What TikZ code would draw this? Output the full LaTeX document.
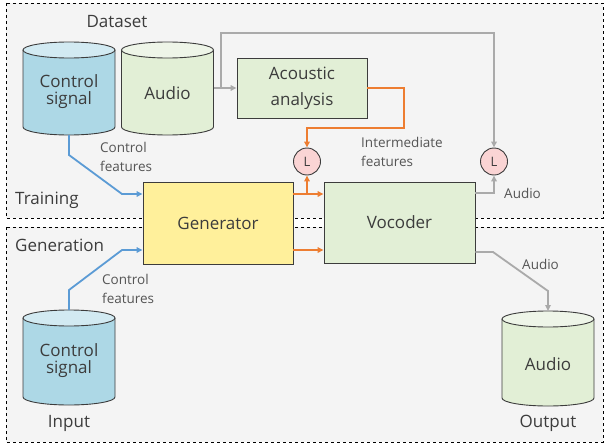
\documentclass[tikz,border=0pt]{standalone}
\usepackage{fontspec}
\setmainfont{Open Sans}
\usetikzlibrary{arrows.meta}
\definecolor{bgray}{RGB}{244,244,244}
\definecolor{txt}{RGB}{60,60,60}
\definecolor{txtl}{RGB}{85,85,85}
\definecolor{edge}{RGB}{60,60,60}
\definecolor{cblue}{RGB}{173,216,230}
\definecolor{cbluetop}{RGB}{210,234,242}
\definecolor{cgreen}{RGB}{226,239,214}
\definecolor{cgreentop}{RGB}{238,245,232}
\definecolor{cyellow}{RGB}{255,240,155}
\definecolor{cpink}{RGB}{250,212,212}
\definecolor{lorange}{RGB}{237,125,49}
\definecolor{lblue}{RGB}{91,155,213}
\definecolor{lgray}{RGB}{170,170,170}
\newcommand{\mycyl}[5]{%
  \fill[#4] (#1-46,#2) -- (#1-46,#3) arc[start angle=180,end angle=360,x radius=46pt,y radius=8pt] -- (#1+46,#2) -- cycle;
  \draw[edge,line width=0.9pt] (#1-46,#2) -- (#1-46,#3) arc[start angle=180,end angle=360,x radius=46pt,y radius=8pt] -- (#1+46,#2);
  \filldraw[fill=#5,draw=edge,line width=0.9pt] (#1,#2) ellipse[x radius=46pt,y radius=8pt];
}
\begin{document}
\begin{tikzpicture}[x=1pt,y=-1pt,
  big/.style={font=\fontsize{17}{17}\selectfont,text=txt,align=center,inner sep=0pt},
  small/.style={font=\fontsize{13.5}{18.5}\selectfont,text=txtl,align=left,inner sep=0pt},
  boxn/.style={draw=edge,line width=0.9pt,font=\fontsize{17}{26}\selectfont,text=txt,align=center,inner sep=0pt},
  lossn/.style={circle,draw=edge,line width=0.9pt,fill=cpink,minimum size=27pt,inner sep=0pt,font=\fontsize{13}{13}\selectfont,text=txt},
  ob/.style={draw=lorange,line width=1.8pt,-{Triangle[length=6pt,width=5.5pt]}},
  bl/.style={draw=lblue,line width=1.8pt,-{Triangle[length=6pt,width=5.5pt]}},
  gr/.style={draw=lgray,line width=1.8pt,-{Triangle[length=6pt,width=5.5pt]}},
  region/.style={draw=black,dashed,line width=0.8pt,fill=bgray}]
\useasboundingbox (0,0) rectangle (604,444);
\fill[white] (0,0) rectangle (604,444);
% regions
\draw[region] (6,3) rectangle (603,218);
\draw[region] (6,227) rectangle (603,442);
\node[big,anchor=west] (trainlab) at (15,200) {Training};
\node[big,anchor=west] (genlab) at (15,245) {Generation};
\node[big] (datalab) at (117,22) {Dataset};
% cylinders
\mycyl{69}{50}{127}{cblue}{cbluetop}
\mycyl{167.5}{50}{127}{cgreen}{cgreentop}
\mycyl{69}{318}{397}{cblue}{cbluetop}
\mycyl{548}{319}{398}{cgreen}{cgreentop}
\node[big] (cs1) at (69,92) {Control\\signal};
\node[big] (au1) at (167.5,93) {Audio};
\node[big] (cs2) at (69,361) {Control\\signal};
\node[big] (au2) at (548,364) {Audio};
\node[big] (inlab) at (69,423) {Input};
\node[big] (outlab) at (548,423) {Output};
\coordinate (cs1b) at (69,135);
\coordinate (au1r) at (213.5,88);
\coordinate (cs2t) at (69,310);
\coordinate (au2t) at (548,311);
% boxes
\node[boxn,fill=cgreen,minimum width=130pt,minimum height=60pt] (aa) at (302,88) {Acoustic\\analysis};
\node[boxn,fill=cyellow,minimum width=150pt,minimum height=82pt] (gen) at (218,223) {Generator};
\node[boxn,fill=cgreen,minimum width=151pt,minimum height=81pt] (voc) at (399.5,222.5) {Vocoder};
\node[lossn] (l1) at (307,161.5) {L};
\node[lossn] (l2) at (494,161.5) {L};
% blue connectors
\draw[bl] (cs1b) -- (69,155) -- (122,194) -- (gen.west |- 0,194);
\draw[bl] (cs2t) -- (69,290) -- (122,250) -- (gen.west |- 0,250);
\node[small,anchor=west] (cf1) at (100,157) {Control\\features};
\node[small,anchor=west] (cf2) at (102,289) {Control\\features};
% gray connectors
\draw[gr] (au1r) -- (aa.west);
\draw[gr] (221,88) -- (221,33) -- (494,33) -- (l2.north);
\draw[gr] (voc.east |- 0,193) -- (494,193) -- (l2.south);
\draw[gr] (voc.east |- 0,252) -- (493,252) -- (548,291) -- (au2t);
\node[small,anchor=west] (aud1) at (504,193) {Audio};
\node[small,anchor=west] (aud2) at (522,264) {Audio};
% orange connectors
\draw[ob] (aa.east) -- (404,88) -- (404,128) -- (307,128) -- (l1.north);
\draw[ob] (gen.east |- 0,194) -- (voc.west |- 0,194);
\draw[ob] (307,194) -- (l1.south);
\draw[ob] (gen.east |- 0,250) -- (voc.west |- 0,250);
\node[small,anchor=west] (imf) at (361,152) {Intermediate\\features};
\end{tikzpicture}
\end{document}
